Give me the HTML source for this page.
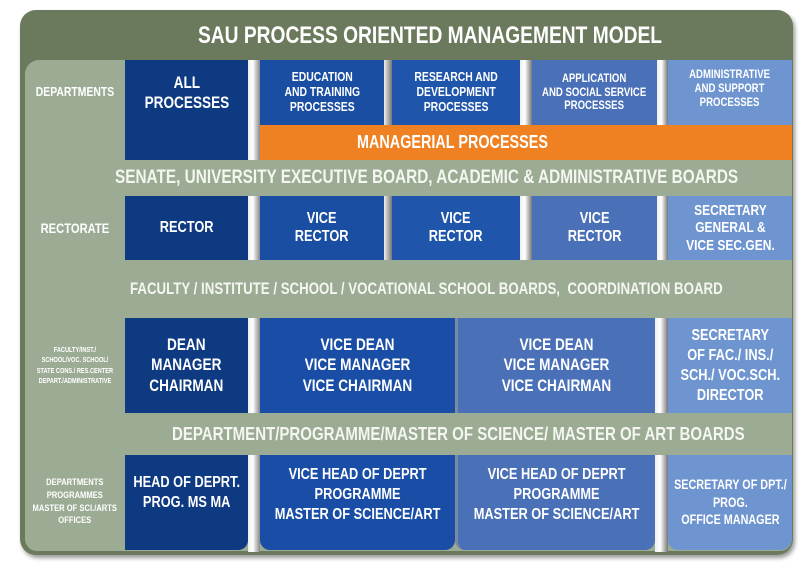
<!DOCTYPE html>
<html><head><meta charset="utf-8"><style>
body{margin:0;width:800px;height:565px;background:#fff;position:relative;overflow:hidden;font-family:"Liberation Sans",sans-serif;font-weight:bold;color:#fff}
div{position:absolute;box-sizing:border-box}
.c{display:flex;align-items:center;justify-content:center;text-align:center;line-height:1.15}
.c span{display:inline-block;white-space:nowrap;transform:scaleX(0.8);flex:none}
.band{color:#f4f6f0;background:#9cab94}
</style></head><body>
<div style="left:20px;top:10px;width:773px;height:545px;background:#6b7a5d;border-radius:16px;box-shadow:2px 3px 4px #999"></div>
<div class="c" style="left:20px;top:12px;width:773px;height:48px;font-size:24px;justify-content:flex-start;padding-left:178px"><span style="transform-origin:left">SAU PROCESS ORIENTED MANAGEMENT MODEL</span></div>
<div style="left:25px;top:60px;width:767px;height:491px;background:#9cab94;border-radius:14px 0 12px 12px"></div>
<!-- gaps -->
<div style="left:248px;top:60px;width:12px;height:100px;background:linear-gradient(90deg,#eee,#fff 40%,#888)"></div>
<div style="left:384px;top:60px;width:8px;height:65px;background:linear-gradient(90deg,#eee,#777)"></div>
<div style="left:520px;top:60px;width:12px;height:65px;background:linear-gradient(90deg,#eee,#fff 40%,#777)"></div>
<div style="left:657px;top:60px;width:11px;height:65px;background:linear-gradient(90deg,#eee,#fff 40%,#777)"></div>
<div style="left:248px;top:196px;width:12px;height:64px;background:linear-gradient(90deg,#eee,#fff 40%,#888)"></div>
<div style="left:384px;top:196px;width:8px;height:64px;background:linear-gradient(90deg,#eee,#777)"></div>
<div style="left:520px;top:196px;width:12px;height:64px;background:linear-gradient(90deg,#eee,#fff 40%,#777)"></div>
<div style="left:657px;top:196px;width:11px;height:64px;background:linear-gradient(90deg,#eee,#fff 40%,#777)"></div>
<div style="left:248px;top:318px;width:12px;height:95px;background:linear-gradient(90deg,#eee,#fff 40%,#888)"></div>
<div style="left:655px;top:318px;width:13px;height:95px;background:linear-gradient(90deg,#eee,#fff 40%,#777)"></div>
<div style="left:248px;top:455px;width:12px;height:97px;background:linear-gradient(90deg,#eee,#fff 40%,#888)"></div>
<div style="left:655px;top:455px;width:13px;height:97px;background:linear-gradient(90deg,#eee,#fff 40%,#777)"></div>
<!-- left labels -->
<div class="c" style="left:25px;top:60px;width:100px;height:65px;font-size:13px"><span>DEPARTMENTS</span></div>
<div class="c" style="left:25px;top:196px;width:100px;height:64px;font-size:14px"><span>RECTORATE</span></div>
<div class="c" style="left:25px;top:318px;width:100px;height:95px;font-size:7.5px;line-height:1.35"><span style="transform:scaleX(0.75)">FACULTY/INST./<br>SCHOOL/VOC. SCHOOL/<br>STATE CONS./ RES.CENTER<br>DEPART./ADMINISTRATIVE</span></div>
<div class="c" style="left:25px;top:455px;width:100px;height:95px;font-size:9.5px;line-height:1.35"><span>DEPARTMENTS<br>PROGRAMMES<br>MASTER OF SCI./ARTS<br>OFFICES</span></div>
<!-- row1 -->
<div class="c" style="left:125px;top:60px;width:123px;height:100px;background:#0e3a82;font-size:17px;align-items:flex-start;padding-top:13px"><span>ALL<br>PROCESSES</span></div>
<div class="c" style="left:260px;top:60px;width:124px;height:65px;background:#1a4ea2;font-size:13px"><span>EDUCATION<br>AND TRAINING<br>PROCESSES</span></div>
<div class="c" style="left:392px;top:60px;width:128px;height:65px;background:#1f55aa;font-size:13px"><span>RESEARCH AND<br>DEVELOPMENT<br>PROCESSES</span></div>
<div class="c" style="left:532px;top:60px;width:125px;height:65px;background:#4a70b7;font-size:12px"><span>APPLICATION<br>AND SOCIAL SERVICE<br>PROCESSES</span></div>
<div class="c" style="left:668px;top:60px;width:124px;height:65px;background:#6e95d0;font-size:12px;align-items:flex-start;padding-top:8px"><span>ADMINISTRATIVE<br>AND SUPPORT<br>PROCESSES</span></div>
<div class="c" style="left:260px;top:125px;width:532px;height:35px;background:#f08122;font-size:18px;justify-content:flex-start;padding-left:97px"><span style="transform-origin:left">MANAGERIAL PROCESSES</span></div>
<div class="c band" style="left:25px;top:160px;width:767px;height:36px;font-size:19.2px;justify-content:flex-start;padding-left:90px"><span style="transform-origin:left">SENATE, UNIVERSITY EXECUTIVE BOARD, ACADEMIC &amp; ADMINISTRATIVE BOARDS</span></div>
<!-- row2 -->
<div class="c" style="left:125px;top:196px;width:123px;height:64px;background:#0e3a82;font-size:16px"><span>RECTOR</span></div>
<div class="c" style="left:260px;top:196px;width:124px;height:64px;background:#1a4ea2;font-size:16px"><span>VICE<br>RECTOR</span></div>
<div class="c" style="left:392px;top:196px;width:128px;height:64px;background:#1f55aa;font-size:16px"><span>VICE<br>RECTOR</span></div>
<div class="c" style="left:532px;top:196px;width:125px;height:64px;background:#4a70b7;font-size:16px"><span>VICE<br>RECTOR</span></div>
<div class="c" style="left:668px;top:196px;width:124px;height:64px;background:#6e95d0;font-size:15px"><span>SECRETARY<br>GENERAL &amp;<br>VICE SEC.GEN.</span></div>
<div class="c band" style="left:25px;top:260px;width:767px;height:58px;font-size:16.6px;justify-content:flex-start;padding-left:105px"><span style="transform-origin:left">FACULTY / INSTITUTE / SCHOOL / VOCATIONAL SCHOOL BOARDS,&nbsp; COORDINATION BOARD</span></div>
<!-- row3 -->
<div class="c" style="left:125px;top:318px;width:123px;height:95px;background:#0e3a82;font-size:17px;line-height:1.2"><span>DEAN<br>MANAGER<br>CHAIRMAN</span></div>
<div class="c" style="left:260px;top:318px;width:195px;height:95px;background:#1a4ea6;font-size:17px;line-height:1.2"><span>VICE DEAN<br>VICE MANAGER<br>VICE CHAIRMAN</span></div>
<div class="c" style="left:455px;top:318px;width:200px;height:95px;background:#4a70b7;font-size:17px;line-height:1.2;border-left:3px solid #7a8aa0"><span>VICE DEAN<br>VICE MANAGER<br>VICE CHAIRMAN</span></div>
<div class="c" style="left:668px;top:318px;width:124px;height:95px;background:#6e95d0;font-size:16px;line-height:1.25"><span>SECRETARY<br>OF FAC./ INS./<br>SCH./ VOC.SCH.<br>DIRECTOR</span></div>
<div class="c band" style="left:25px;top:413px;width:767px;height:42px;font-size:18.8px;justify-content:flex-start;padding-left:147px"><span style="transform-origin:left">DEPARTMENT/PROGRAMME/MASTER OF SCIENCE/ MASTER OF ART BOARDS</span></div>
<!-- row4 -->
<div class="c" style="left:125px;top:455px;width:123px;height:95px;background:#0e3a82;font-size:16px;line-height:1.25;align-items:flex-start;padding-top:18px;border-radius:0 0 10px 0"><span>HEAD OF DEPRT.<br>PROG. MS MA</span></div>
<div class="c" style="left:260px;top:455px;width:195px;height:95px;background:#1a4ea6;font-size:16px;line-height:1.25;align-items:flex-start;padding-top:10px;border-radius:0 0 10px 10px"><span>VICE HEAD OF DEPRT<br>PROGRAMME<br>MASTER OF SCIENCE/ART</span></div>
<div class="c" style="left:455px;top:455px;width:200px;height:95px;background:#4a70b7;font-size:16px;line-height:1.25;align-items:flex-start;padding-top:10px;border-radius:0 0 10px 10px;border-left:3px solid #7a8aa0"><span>VICE HEAD OF DEPRT<br>PROGRAMME<br>MASTER OF SCIENCE/ART</span></div>
<div class="c" style="left:668px;top:455px;width:124px;height:95px;background:#6e95d0;font-size:13.5px;line-height:1.3;border-radius:0 0 12px 10px"><span>SECRETARY OF DPT./<br>PROG.<br>OFFICE MANAGER</span></div>
</body></html>
